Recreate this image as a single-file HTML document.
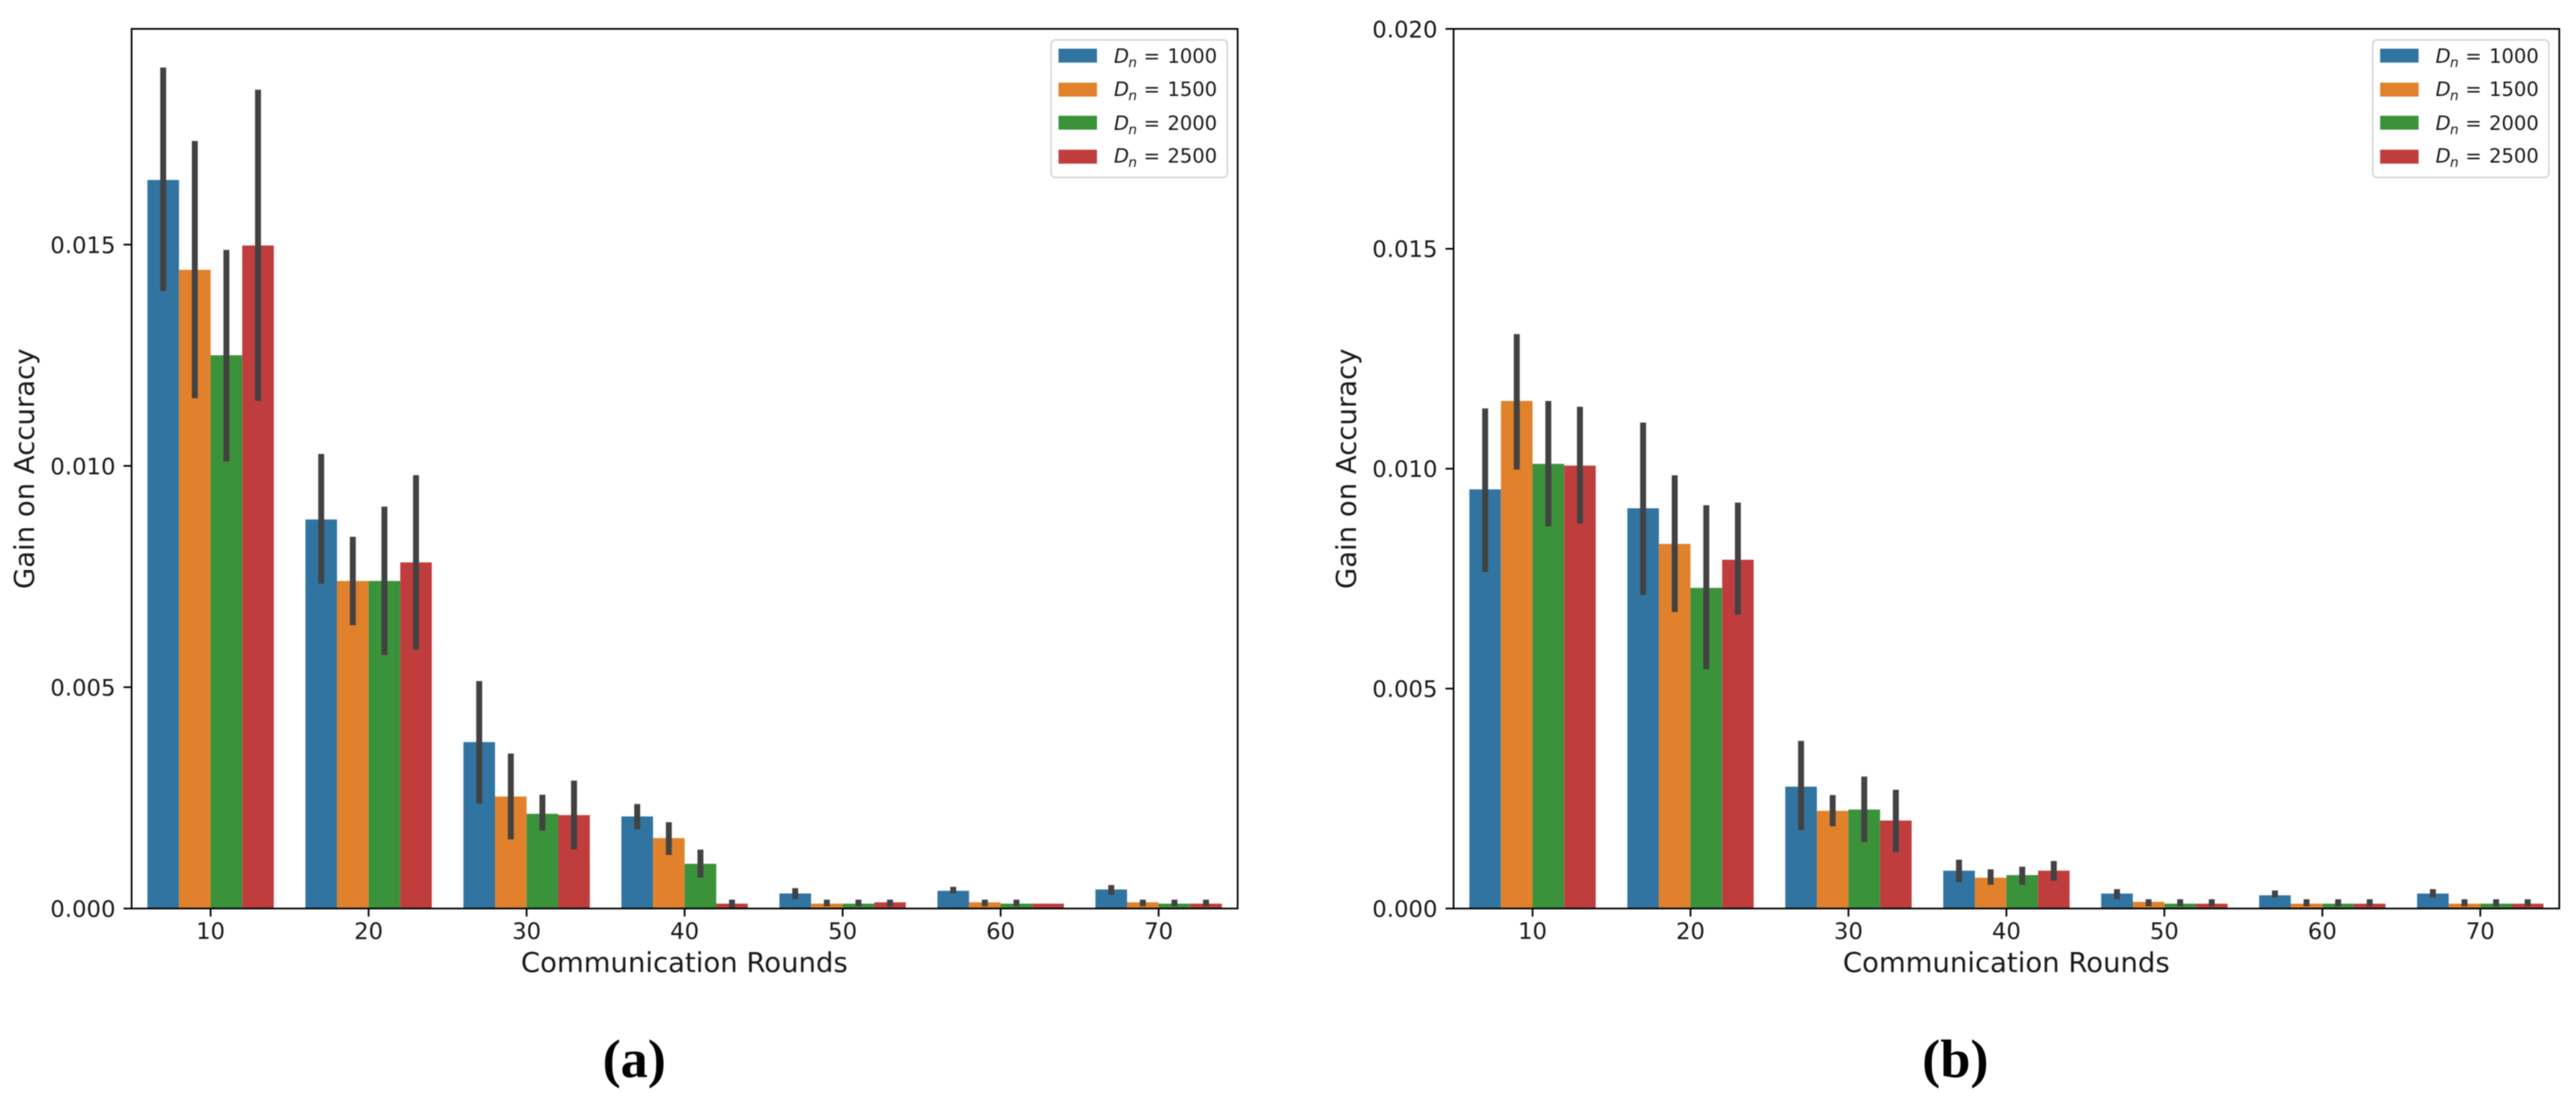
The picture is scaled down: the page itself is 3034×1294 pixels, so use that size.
<!DOCTYPE html>
<html lang="en">
<head>
<meta charset="utf-8">
<title>Gain on Accuracy vs Communication Rounds</title>
<style>
  html, body { margin: 0; padding: 0; background: #ffffff; }
  body { width: 3034px; height: 1294px; overflow: hidden; }
  svg { display: block; filter: blur(0.5px); }
  text { font-family: "DejaVu Sans", "Liberation Sans", sans-serif; fill: #1a1a1a; }
  .caption { font-family: "Liberation Serif", serif; font-weight: bold; font-size: 64px; fill: #000; }
  .axis-title { font-size: 32.4px; }
  .legend-text { font-size: 23px; }
  .legend-sub { font-size: 16px; font-style: italic; }
  .legend-d { font-style: italic; }
</style>
</head>
<body>
<svg id="figure" xmlns="http://www.w3.org/2000/svg" width="3034" height="1294" viewBox="0 0 3034 1294">
  <g id="panel-a">
    <g id="panel-a-bars"></g>
    <g id="panel-a-axes"></g>
    <text class="axis-title" x="806" y="1144.3" text-anchor="middle">Communication Rounds</text>
    <text class="axis-title" transform="translate(40 552) rotate(-90)" text-anchor="middle">Gain on Accuracy</text>
    <g>
      <rect x="1238" y="47" width="207.500" height="162" rx="5" fill="#ffffff" stroke="#d9d9d9" stroke-width="2"/>
      <rect x="1246.700" y="57.300" width="45.300" height="16.400" fill="#3274a1"/>
      <rect x="1246.700" y="97.300" width="45.300" height="16.400" fill="#e1812c"/>
      <rect x="1246.700" y="136.300" width="45.300" height="16.400" fill="#3a923a"/>
      <rect x="1246.700" y="176.300" width="45.300" height="16.400" fill="#c03d3e"/>
      <text class="legend-text" y="74"><tspan class="legend-d" x="1312">D</tspan><tspan class="legend-sub" x="1329" y="79">n</tspan><tspan x="1347" y="74">=</tspan><tspan x="1375" y="74">1000</tspan></text>
      <text class="legend-text" y="113"><tspan class="legend-d" x="1312">D</tspan><tspan class="legend-sub" x="1329" y="118">n</tspan><tspan x="1347" y="113">=</tspan><tspan x="1375" y="113">1500</tspan></text>
      <text class="legend-text" y="153"><tspan class="legend-d" x="1312">D</tspan><tspan class="legend-sub" x="1329" y="158">n</tspan><tspan x="1347" y="153">=</tspan><tspan x="1375" y="153">2000</tspan></text>
      <text class="legend-text" y="191.500"><tspan class="legend-d" x="1312">D</tspan><tspan class="legend-sub" x="1329" y="196.500">n</tspan><tspan x="1347" y="191.500">=</tspan><tspan x="1375" y="191.500">2500</tspan></text>
    </g>
    <text class="caption" x="747" y="1268" text-anchor="middle">(a)</text>
  </g>
  <g id="panel-b">
    <g id="panel-b-bars"></g>
    <g id="panel-b-axes"></g>
    <text class="axis-title" x="2363" y="1144.3" text-anchor="middle">Communication Rounds</text>
    <text class="axis-title" transform="translate(1597 552) rotate(-90)" text-anchor="middle">Gain on Accuracy</text>
    <g transform="translate(1556.600 0)">
      <rect x="1238" y="47" width="207.500" height="162" rx="5" fill="#ffffff" stroke="#d9d9d9" stroke-width="2"/>
      <rect x="1246.700" y="57.300" width="45.300" height="16.400" fill="#3274a1"/>
      <rect x="1246.700" y="97.300" width="45.300" height="16.400" fill="#e1812c"/>
      <rect x="1246.700" y="136.300" width="45.300" height="16.400" fill="#3a923a"/>
      <rect x="1246.700" y="176.300" width="45.300" height="16.400" fill="#c03d3e"/>
      <text class="legend-text" y="74"><tspan class="legend-d" x="1312">D</tspan><tspan class="legend-sub" x="1329" y="79">n</tspan><tspan x="1347" y="74">=</tspan><tspan x="1375" y="74">1000</tspan></text>
      <text class="legend-text" y="113"><tspan class="legend-d" x="1312">D</tspan><tspan class="legend-sub" x="1329" y="118">n</tspan><tspan x="1347" y="113">=</tspan><tspan x="1375" y="113">1500</tspan></text>
      <text class="legend-text" y="153"><tspan class="legend-d" x="1312">D</tspan><tspan class="legend-sub" x="1329" y="158">n</tspan><tspan x="1347" y="153">=</tspan><tspan x="1375" y="153">2000</tspan></text>
      <text class="legend-text" y="191.500"><tspan class="legend-d" x="1312">D</tspan><tspan class="legend-sub" x="1329" y="196.500">n</tspan><tspan x="1347" y="191.500">=</tspan><tspan x="1375" y="191.500">2500</tspan></text>
    </g>
    <text class="caption" x="2303" y="1268" text-anchor="middle">(b)</text>
  </g>
</svg>
<script>
// ---- Shared categories and tick labels ----
const rounds = [10, 20, 30, 40, 50, 60, 70];
const sampleSizes = [1000, 1500, 2000, 2500];
const yTickLabelsA = ["0.000", "0.005", "0.010", "0.015"];
const yTickLabelsB = ["0.000", "0.005", "0.010", "0.015", "0.020"];

// ---- Panel (a) values: one row per Dn, one column per round ----
const panelAMeans1000 = [0.01646, 0.00879, 0.00376, 0.00208, 0.00034, 0.00040, 0.00043];
const panelAMeans1500 = [0.01443, 0.00740, 0.00253, 0.00159, 0.00011, 0.00014, 0.00014];
const panelAMeans2000 = [0.01250, 0.00740, 0.00214, 0.00101, 0.00011, 0.00011, 0.00011];
const panelAMeans2500 = [0.01498, 0.00782, 0.00211, 0.00011, 0.00014, 0.00011, 0.00011];

const panelALow1000 = [0.01395, 0.00734, 0.00237, 0.00179, 0.00021, 0.00034, 0.00031];
const panelALow1500 = [0.01153, 0.00640, 0.00156, 0.00121, 0.00005, 0.00005, 0.00005];
const panelALow2000 = [0.01010, 0.00573, 0.00176, 0.00070, 0.00005, 0.00005, 0.00005];
const panelALow2500 = [0.01147, 0.00585, 0.00134, 0.00001, 0.00005, 0.00011, 0.00005];

const panelAHigh1000 = [0.01900, 0.01027, 0.00514, 0.00236, 0.00046, 0.00049, 0.00053];
const panelAHigh1500 = [0.01734, 0.00840, 0.00350, 0.00195, 0.00020, 0.00020, 0.00020];
const panelAHigh2000 = [0.01488, 0.00908, 0.00257, 0.00133, 0.00020, 0.00020, 0.00020];
const panelAHigh2500 = [0.01850, 0.00979, 0.00289, 0.00020, 0.00020, 0.00011, 0.00020];

// ---- Panel (b) values ----
const panelBMeans1000 = [0.00953, 0.00910, 0.00277, 0.00086, 0.00034, 0.00030, 0.00034];
const panelBMeans1500 = [0.01154, 0.00829, 0.00222, 0.00070, 0.00015, 0.00011, 0.00011];
const panelBMeans2000 = [0.01011, 0.00729, 0.00225, 0.00076, 0.00011, 0.00011, 0.00011];
const panelBMeans2500 = [0.01007, 0.00793, 0.00200, 0.00086, 0.00011, 0.00011, 0.00011];

const panelBLow1000 = [0.00765, 0.00713, 0.00178, 0.00060, 0.00021, 0.00025, 0.00025];
const panelBLow1500 = [0.00998, 0.00674, 0.00187, 0.00054, 0.00005, 0.00005, 0.00005];
const panelBLow2000 = [0.00869, 0.00544, 0.00151, 0.00054, 0.00005, 0.00005, 0.00005];
const panelBLow2500 = [0.00875, 0.00668, 0.00128, 0.00063, 0.00005, 0.00005, 0.00005];

const panelBHigh1000 = [0.01137, 0.01105, 0.00381, 0.00111, 0.00044, 0.00041, 0.00044];
const panelBHigh1500 = [0.01306, 0.00985, 0.00258, 0.00089, 0.00021, 0.00021, 0.00021];
const panelBHigh2000 = [0.01154, 0.00917, 0.00300, 0.00095, 0.00021, 0.00021, 0.00021];
const panelBHigh2500 = [0.01141, 0.00923, 0.00270, 0.00108, 0.00021, 0.00021, 0.00021];

const SVG_NS = "http://www.w3.org/2000/svg";
const seriesColors = ["#3274a1", "#e1812c", "#3a923a", "#c03d3e"];

function make(tag, attrs, parent) {
  const node = document.createElementNS(SVG_NS, tag);
  for (const key in attrs) node.setAttribute(key, attrs[key]);
  parent.appendChild(node);
  return node;
}

function drawPanel(prefix, frame, yMax, yTickLabels, means, lows, highs) {
  const barsLayer = document.getElementById("panel-" + prefix + "-bars");
  const axesLayer = document.getElementById("panel-" + prefix + "-axes");
  const catWidth = (frame.right - frame.left) / rounds.length;
  const barWidth = catWidth * 0.2;
  const xScale = function (i) { return frame.left + catWidth * (i + 0.5); };
  const yScale = function (v) { return frame.bottom - (v / yMax) * (frame.bottom - frame.top); };

  sampleSizes.forEach(function (size, s) {
    rounds.forEach(function (round, i) {
      const left = xScale(i) + (s - 2) * barWidth;
      const bar = make("rect", {
        x: left, y: yScale(means[s][i]), width: barWidth,
        height: frame.bottom - yScale(means[s][i]), fill: seriesColors[s]
      }, barsLayer);
      
      
    });
  });

  sampleSizes.forEach(function (size, s) {
    rounds.forEach(function (round, i) {
      if (highs[s][i] <= lows[s][i]) return;
      const cx = xScale(i) + (s - 1.5) * barWidth;
      const err = make("line", {
        x1: cx, x2: cx, y1: yScale(lows[s][i]), y2: yScale(highs[s][i]),
        stroke: "#424242", "stroke-width": 7
      }, barsLayer);
      
      
    });
  });

  const spine = make("rect", {
    x: frame.left, y: frame.top, width: frame.right - frame.left,
    height: frame.bottom - frame.top, fill: "none", stroke: "#000000", "stroke-width": 2
  }, axesLayer);
  
  

  rounds.forEach(function (round, i) {
    const x = xScale(i);
    const tick = make("line", {
      x1: x, x2: x, y1: frame.bottom, y2: frame.bottom + 9.5, stroke: "#000000", "stroke-width": 2
    }, axesLayer);
    
    
    const label = make("text", {
      x: x, y: frame.bottom + 36, "text-anchor": "middle", "font-size": 26.8
    }, axesLayer);
    label.textContent = String(round);
    
    
  });

  yTickLabels.forEach(function (text) {
    const y = yScale(parseFloat(text));
    const tick = make("line", {
      x1: frame.left - 9.5, x2: frame.left, y1: y, y2: y, stroke: "#000000", "stroke-width": 2
    }, axesLayer);
    
    
    const label = make("text", {
      x: frame.left - 19, y: y + 9.8, "text-anchor": "end", "font-size": 26.8
    }, axesLayer);
    label.textContent = text;
    
    
  });
}

drawPanel("a", { left: 155, right: 1457.7, top: 34, bottom: 1069.7 }, 0.019874, yTickLabelsA,
  [panelAMeans1000, panelAMeans1500, panelAMeans2000, panelAMeans2500],
  [panelALow1000, panelALow1500, panelALow2000, panelALow2500],
  [panelAHigh1000, panelAHigh1500, panelAHigh2000, panelAHigh2500]);

drawPanel("b", { left: 1712, right: 3014.3, top: 34, bottom: 1069.7 }, 0.02, yTickLabelsB,
  [panelBMeans1000, panelBMeans1500, panelBMeans2000, panelBMeans2500],
  [panelBLow1000, panelBLow1500, panelBLow2000, panelBLow2500],
  [panelBHigh1000, panelBHigh1500, panelBHigh2000, panelBHigh2500]);
</script>
</body>
</html>
